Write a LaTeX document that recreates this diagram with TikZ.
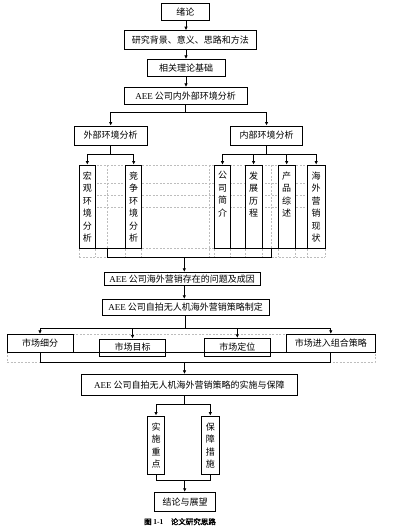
\documentclass[tikz,border=0pt]{standalone}
\usepackage{fontspec}
\setmainfont{Liberation Serif}
\newfontfamily\cjk[AutoFakeBold=2]{Noto Sans CJK SC}
\usepackage{tikz}
\usetikzlibrary{arrows.meta}
\definecolor{gridgray}{HTML}{BDBDBD}
\newcommand{\vtxt}[2]{\parbox[c][#1][t]{12pt}{\centering #2}}
\tikzset{bx/.style={draw,line width=0.9pt,fill=white,inner sep=0pt,font=\cjk\fontsize{9}{12.5}\selectfont},
  vbx/.style={bx,inner ysep=6.5pt},
  sz/.style 2 args={minimum width=#1pt,minimum height=#2pt},
  ln/.style={line width=0.75pt},
  arr/.style={ln,-{Latex[length=3.5pt,width=3.5pt]}},
  tbl/.style={gridgray,line width=0.5pt,dash pattern=on 2pt off 1.5pt}}

\begin{document}
\begin{tikzpicture}[x=1pt,y=-1pt]
\useasboundingbox (0,0) rectangle (409,527);
\foreach \y in {165,183.3,195.5,207.5,248.3,257.3} \draw[tbl] (79.3,\y) -- (325,\y);
\foreach \x in {79.3,95.3,107.7,125.7,141.7,209,214.3,230.7,245,262,271,278.3,295,307.3,325} \draw[tbl] (\x,165) -- (\x,257.3);
\draw[tbl] (7,334.3) rectangle (375,362.3);

\node[bx,sz={47.3}{17.4}] (xl) at (185.3,12) {绪论};
\node[bx,sz={132.7}{18.6}] (bg) at (190.3,40) {研究背景、意义、思路和方法};
\node[bx,sz={77.7}{16.7}] (th) at (186.2,67.7) {相关理论基础};
\node[bx,sz={123.3}{17}] (env) at (185.7,95.8) {{\rmfamily AEE} 公司内外部环境分析};
\node[bx,sz={73.3}{19}] (ext) at (110.7,135.5) {外部环境分析};
\node[bx,sz={71.6}{19}] (int) at (266.5,135.5) {内部环境分析};
\node[vbx,sz={16}{83.3}] (macro) at (87.3,206.7) {\vtxt{70.3pt}{宏\\观\\环\\境\\分\\析}};
\node[vbx,sz={16}{83.3}] (comp) at (133.7,206.7) {\vtxt{70.3pt}{竞\\争\\环\\境\\分\\析}};
\node[vbx,sz={16.4}{83.3}] (intro) at (222.5,206.7) {\vtxt{70.3pt}{公\\司\\简\\介}};
\node[vbx,sz={17}{83.3}] (hist) at (253.6,206.7) {\vtxt{70.3pt}{发\\展\\历\\程}};
\node[vbx,sz={16.7}{83.3}] (prod) at (286.7,206.7) {\vtxt{70.3pt}{产\\品\\综\\述}};
\node[vbx,sz={17.7}{83.3}] (mkt) at (316.2,206.7) {\vtxt{70.3pt}{海\\外\\营\\销\\现\\状}};
\node[bx,sz={155.7}{13.4}] (prob) at (182.2,279) {{\rmfamily AEE} 公司海外营销存在的问题及成因};
\node[bx,sz={166.7}{16.4}] (plan) at (185.7,307.5) {{\rmfamily AEE} 公司自拍无人机海外营销策略制定};
\node[bx,sz={66}{18}] (seg) at (40,343.3) {市场细分};
\node[bx,sz={66.4}{17}] (tgt) at (132.5,347.5) {市场目标};
\node[bx,sz={66.7}{17.7}] (pos) at (237.3,347.2) {市场定位};
\node[bx,sz={88.3}{18}] (mix) at (330.8,343.3) {市场进入组合策略};
\node[bx,sz={216.7}{21.4}] (impl) at (189.3,385) {{\rmfamily AEE} 公司自拍无人机海外营销策略的实施与保障};
\node[vbx,sz={17.4}{58}] (key) at (156,445) {\vtxt{45pt}{实\\施\\重\\点}};
\node[vbx,sz={17.3}{58}] (guar) at (210.3,445) {\vtxt{45pt}{保\\障\\措\\施}};
\node[bx,sz={61.4}{19.4}] (concl) at (185,502) {结论与展望};
\node[font=\cjk\bfseries\fontsize{7.5}{9}\selectfont,inner sep=0pt] (cap) at (180,521.7) {图 {\rmfamily 1-1}\quad 论文研究思路};

\coordinate (s1) at (186,20.7);
\coordinate (b1) at (185.7,112.7);
\coordinate (b2) at (110.7,154);
\coordinate (b3) at (266.5,154);
\coordinate (j1) at (107.7,257.3);
\coordinate (j2) at (271,257.3);
\coordinate (m1) at (184.3,257.3);
\coordinate (b4) at (185.7,328.3);
\coordinate (m2) at (184.5,362.3);
\coordinate (b5) at (184.7,404.3);
\coordinate (m3) at (184.7,480.7);

\draw[arr] (s1) -- (s1 |- bg.north);
\draw[arr] (s1 |- bg.south) -- (s1 |- th.north);
\draw[arr] (s1 |- th.south) -- (s1 |- env.north);
\draw[ln] (env.south) -- (b1);
\foreach \n in {ext,int} \draw[arr] (b1) -| (\n.north);
\draw[ln] (ext.south) -- (b2);
\foreach \n in {macro,comp} \draw[arr] (b2) -| (\n.north);
\draw[ln] (int.south) -- (b3);
\foreach \n in {intro,hist,prod,mkt} \draw[arr] (b3) -| (\n.north);
\draw[ln] (macro.south west) -- (comp.south east);
\draw[ln] (intro.south west) -- (mkt.south east);
\draw[ln] (j1 |- macro.south) -- (j1) -- (j2) -- (j2 |- mkt.south);
\draw[arr] (m1) -- (m1 |- prob.north);
\draw[arr] (m1 |- prob.south) -- (m1 |- plan.north);
\draw[ln] (b4 |- plan.south) -- (b4);
\foreach \n in {seg,tgt,pos,mix} \draw[arr] (b4) -| (\n.north);
\draw[ln] (seg.south east) -- (mix.south west);
\draw[ln] (seg.south) -- (seg.south |- m2) -- (mix.south |- m2) -- (mix.south);
\draw[arr] (m2) -- (m2 |- impl.north);
\draw[ln] (b5 |- impl.south) -- (b5);
\foreach \n in {key,guar} \draw[arr] (b5) -| (\n.north);
\draw[ln] (key.south) -- (key.south |- m3) -- (guar.south |- m3) -- (guar.south);
\draw[arr] (m3) -- (m3 |- concl.north);
\end{tikzpicture}
\end{document}
